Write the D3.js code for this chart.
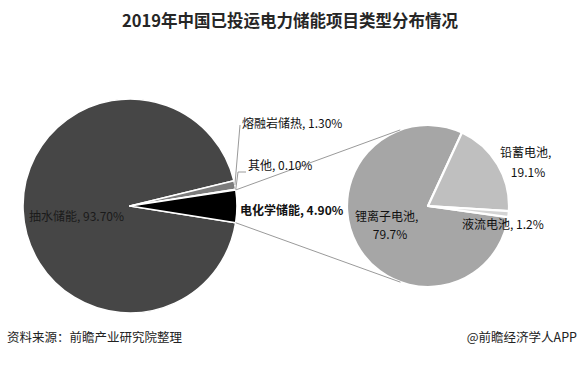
<!DOCTYPE html>
<html>
<head>
<meta charset="utf-8">
<script src="https://cdn.jsdelivr.net/npm/d3@7/dist/d3.min.js"></script>
<style>
html,body{margin:0;padding:0;background:#fff;}
svg{display:block;font-family:"Noto Sans CJK SC","Noto Sans",sans-serif;}
</style>
</head>
<body>
<svg id="c" width="579" height="367"></svg>
<script>
// ---- data ----
const title = "2019年中国已投运电力储能项目类型分布情况";
const mainCategories = ["抽水储能", "熔融岩储热", "其他", "电化学储能"];
const mainValues = [93.7, 1.3, 0.1, 4.9];
const subCategories = ["锂离子电池", "铅蓄电池", "液流电池"];
const subValues = [79.7, 19.1, 1.2];
const sourceText = "资料来源：前瞻产业研究院整理";
const brandText = "@前瞻经济学人APP";

// ---- layout ----
const svg = d3.select("#c");
const deg = Math.PI / 180;
const main = {cx: 130, cy: 206, r: 107};
const sub = {cx: 428, cy: 206, r: 81};
const mainColors = ["#464646", "#7c7c7c", "#9a9a9a", "#000000"];
const subColors = ["#a6a6a6", "#bfbfbf", "#d4d4d4"];

svg.append("text").attr("x", 290).attr("y", 27).attr("text-anchor", "middle")
  .attr("font-size", 16.5).attr("font-weight", "bold").attr("fill", "#262626").text(title);

const mainPie = d3.pie().sort(null).startAngle(99 * deg).endAngle(459 * deg);
const mainArcs = mainPie(mainValues);
const arcMain = d3.arc().innerRadius(0).outerRadius(main.r);
const gMain = svg.append("g").attr("transform", `translate(${main.cx},${main.cy})`);
gMain.selectAll("path").data(mainArcs).enter().append("path")
  .attr("d", arcMain).attr("fill", (d, i) => mainColors[i])
  .attr("stroke", "#fff").attr("stroke-width", 1.6).attr("stroke-linejoin", "round");

const subPie = d3.pie().sort(null).startAngle(97.9 * deg).endAngle(457.9 * deg);
const subArcs = subPie(subValues);
const arcSub = d3.arc().innerRadius(0).outerRadius(sub.r);
const gSub = svg.append("g").attr("transform", `translate(${sub.cx},${sub.cy})`);
gSub.selectAll("path").data(subArcs).enter().append("path")
  .attr("d", arcSub).attr("fill", (d, i) => subColors[i])
  .attr("stroke", "#fff").attr("stroke-width", 2.2).attr("stroke-linejoin", "round");

// connector lines: from the electrochemical slice edges, tangent to the secondary pie
function polar(c, r, a) { return [c.cx + r * Math.sin(a), c.cy - r * Math.cos(a)]; }
const ec = mainArcs[3];
function tangent(p, upper) {
  const dx = p[0] - sub.cx, dy = p[1] - sub.cy;
  const d = Math.hypot(dx, dy);
  const base = Math.atan2(dy, dx);
  const off = Math.acos(sub.r / d);
  const a = upper ? base + off : base - off;
  return [sub.cx + sub.r * Math.cos(a), sub.cy + sub.r * Math.sin(a)];
}
const pTop = polar(main, main.r, ec.startAngle);
const pBot = polar(main, main.r, ec.endAngle);
const tTop = tangent(pTop, true);
const tBot = tangent(pBot, false);
svg.append("line").attr("x1", pTop[0]).attr("y1", pTop[1]).attr("x2", tTop[0]).attr("y2", tTop[1])
  .attr("stroke", "#9a9a9a").attr("stroke-width", 1);
svg.append("line").attr("x1", pBot[0]).attr("y1", pBot[1]).attr("x2", tBot[0]).attr("y2", tBot[1])
  .attr("stroke", "#9a9a9a").attr("stroke-width", 1);

// leader lines for the thin slices
const molten = polar(main, main.r, (mainArcs[1].startAngle + mainArcs[1].endAngle) / 2);
const other = polar(main, main.r, (mainArcs[2].startAngle + mainArcs[2].endAngle) / 2);
svg.append("polyline").attr("points", `${molten[0]},${molten[1]} 240,125`)
  .attr("fill", "none").attr("stroke", "#9a9a9a").attr("stroke-width", 1);
svg.append("polyline").attr("points", `${other[0]},${other[1]} 238,172 246,172`)
  .attr("fill", "none").attr("stroke", "#9a9a9a").attr("stroke-width", 1);

const fmt2 = d3.format(".2f"), fmt1 = d3.format(".1f");
function label(x, y, txt, opts = {}) {
  svg.append("text").attr("x", x).attr("y", y)
    .attr("text-anchor", opts.anchor || "start")
    .attr("font-size", opts.size || 12)
    .attr("font-weight", opts.bold ? "bold" : "normal")
    .attr("fill", opts.fill || "#111").text(txt);
}
label(242, 128, `${mainCategories[1]}, ${fmt2(mainValues[1])}%`);
label(248, 170, `${mainCategories[2]}, ${fmt2(mainValues[2])}%`);
label(240, 215, `${mainCategories[3]}, ${fmt2(mainValues[3])}%`, {bold: true});
label(29, 221, `${mainCategories[0]}, ${fmt2(mainValues[0])}%`, {fill: "#1a1a1a"});

label(355, 221, `${subCategories[0]},`);
label(390, 239, `${fmt1(subValues[0])}%`, {anchor: "middle"});
label(500, 157, `${subCategories[1]},`);
label(528, 177, `${fmt1(subValues[1])}%`, {anchor: "middle"});
label(462, 229, `${subCategories[2]}, ${fmt1(subValues[2])}%`);

label(7, 342, sourceText, {size: 12.5, fill: "#222"});
label(577, 342, brandText, {size: 12.5, fill: "#222", anchor: "end"});
</script>
</body>
</html>
